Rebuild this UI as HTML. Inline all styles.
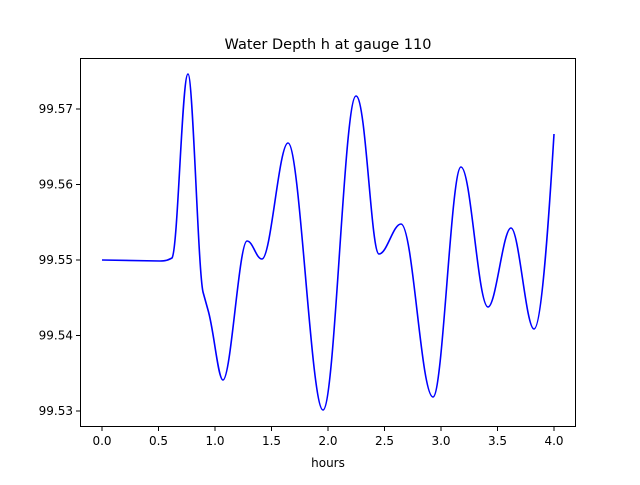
<!DOCTYPE html>
<html><head><meta charset="utf-8"><style>body{margin:0;background:#fff}</style></head><body>
<svg width="640" height="480" xmlns="http://www.w3.org/2000/svg" font-family="DejaVu Sans, Liberation Sans, sans-serif">
<rect width="640" height="480" fill="#fff"/>
<text x="328" y="49" font-size="14.5" text-anchor="middle">Water Depth h at gauge 110</text>
<path d="M102,260 L160,261 C166,261 168,260 172,258 C178,250 182,74 188,74 C193,74 198,270 203,292 L208,310 C214,330 218,380 223,380 C231,380 239,241 247,241 C253,241 256,259 262,259 C271,259 279,143 288,143 C300,143 311,410 323,410 C335,410 344,96 356,96 C366,96 371,254 379,254 C387,254 393,224 401,224 C413,224 421,397 433,397 C443,397 451,167 461,167 C471,167 478,307 488,307 C496,307 503,228 511,228 C519,228 526,329 534,329 C542,329 550,200 554,134" fill="none" stroke="#0000ff" stroke-width="1.6"/>
<rect x="80.5" y="58.5" width="495" height="368" fill="none" stroke="#000" stroke-width="1"/>
<g stroke="#000" stroke-width="1">
<line x1="102" y1="427" x2="102" y2="431"/><line x1="158.5" y1="427" x2="158.5" y2="431"/><line x1="215" y1="427" x2="215" y2="431"/><line x1="271.5" y1="427" x2="271.5" y2="431"/><line x1="328" y1="427" x2="328" y2="431"/><line x1="384.5" y1="427" x2="384.5" y2="431"/><line x1="441" y1="427" x2="441" y2="431"/><line x1="497.5" y1="427" x2="497.5" y2="431"/><line x1="554" y1="427" x2="554" y2="431"/>
<line x1="76" y1="411" x2="80" y2="411"/><line x1="76" y1="335.5" x2="80" y2="335.5"/><line x1="76" y1="260" x2="80" y2="260"/><line x1="76" y1="184.5" x2="80" y2="184.5"/><line x1="76" y1="109" x2="80" y2="109"/>
</g>
<g font-size="12" text-anchor="middle">
<text x="102" y="445">0.0</text><text x="158.5" y="445">0.5</text><text x="215" y="445">1.0</text><text x="271.5" y="445">1.5</text><text x="328" y="445">2.0</text><text x="384.5" y="445">2.5</text><text x="441" y="445">3.0</text><text x="497.5" y="445">3.5</text><text x="554" y="445">4.0</text>
<text x="328" y="467">hours</text>
</g>
<g font-size="12" text-anchor="end">
<text x="73" y="415">99.53</text><text x="73" y="339.5">99.54</text><text x="73" y="264">99.55</text><text x="73" y="188.5">99.56</text><text x="73" y="113">99.57</text>
</g>
</svg>
</body></html>
